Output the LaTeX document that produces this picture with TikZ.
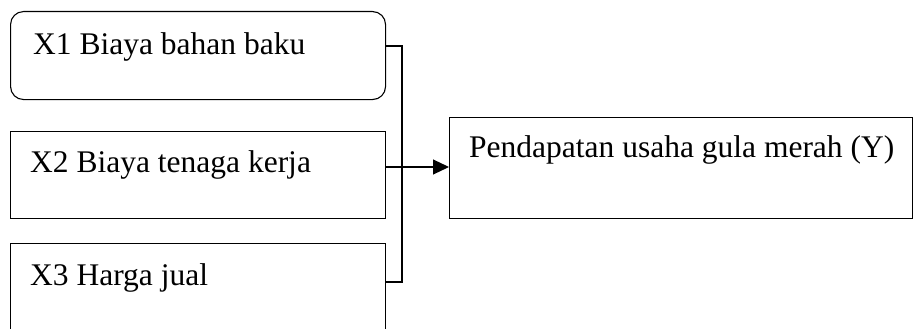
\documentclass[tikz,border=0pt]{standalone}
\usepackage{fontspec}
\setmainfont{Liberation Serif}
\usetikzlibrary{arrows.meta}
\begin{document}
\begin{tikzpicture}[x=1pt,y=-1pt,
  box/.style={draw,line width=1.1pt,anchor=north west,inner sep=0pt},
  lbl/.style={anchor=base west,inner sep=0pt,font=\fontsize{31.5}{38}\selectfont},
  conn/.style={draw,line width=1.1pt}]
\useasboundingbox (0,0) rectangle (916,329);
\node[box,rounded corners=13pt,minimum width=375pt,minimum height=88pt] (b1) at (10,11) {};
\node[box,minimum width=375pt,minimum height=87pt] (b2) at (10,131) {};
\node[box,minimum width=375pt,minimum height=95pt] (b3) at (10,243) {};
\node[box,minimum width=463pt,minimum height=101pt] (y) at (449,117) {};
\node[lbl] (t1) at (33,55) {X1 Biaya bahan baku};
\node[lbl] (t2) at (30,172) {X2 Biaya tenaga kerja};
\node[lbl] (t3) at (30,285) {X3 Harga jual};
\node[lbl] (ty) at (469,157) {Pendapatan usaha gula merah (Y)};
\coordinate (j1) at (402,46);
\coordinate (j3) at (402,282);
\coordinate (a) at (400,167);
\draw[conn] (b1.east |- j1) -- (j1) -- (j3) -- (b3.east |- j3);
\draw[conn,-{Triangle[length=16pt,width=15pt]}] (b2.east |- a) -- (y.west |- a);
\end{tikzpicture}
\end{document}
